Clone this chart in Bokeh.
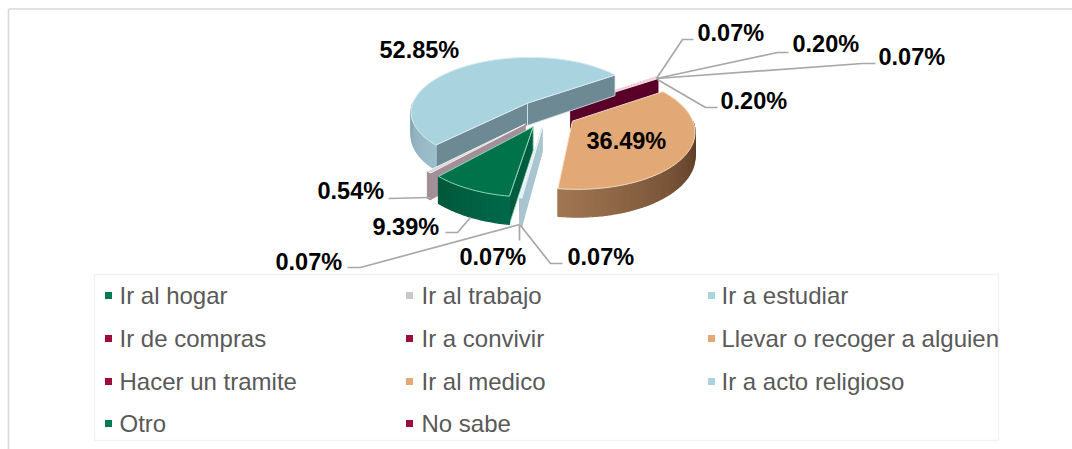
import math
from bokeh.plotting import figure
from bokeh.core.properties import value
from bokeh.embed import file_html
from bokeh.resources import INLINE

categories = ["Ir al hogar", "Ir al trabajo", "Ir a estudiar", "Ir de compras", "Ir a convivir",
              "Llevar o recoger a alguien", "Hacer un tramite", "Ir al medico", "Ir a acto religioso",
              "Otro", "No sabe"]
shares = [9.39, 0.54, 52.85, 0.07, 0.20, 0.07, 0.20, 36.49, 0.07, 0.07, 0.07]
legend_colors = ["#007a53", "#c8c8c8", "#a9d3df", "#9b0d3a", "#9b0d3a", "#e2a876", "#9b0d3a",
                 "#e2a876", "#a9d3df", "#007a53", "#9b0d3a"]

# Pie styling per series: top, top outline, radial wall, outer wall (two ends)
top_colors = ["#00734a", "#dcd6d8", "#a9d3df", "#e9b9cc", "#e9b9cc", "#e2a876", "#e9b9cc",
              "#e2a876", "#d8e8ee", "#d8e8ee", "#d8e8ee"]
edge_colors = ["#8fd6b8", "#f0eeee", "#dbeaef", "#f3dbe6", "#f3dbe6", "#f0d8c0", "#f3dbe6",
               "#f0dcc8", "#e8f3f6", "#e8f3f6", "#e8f3f6"]
wall_colors = ["#005c3e", "#a28f97", "#6c8994", "#7d6050", "#5a0028", "#7d6050", "#5a0028",
               "#7a5a40", "#a9c5cf", "#a9c5cf", "#a9c5cf"]
wall_a = ["#00684a", "#a28f97", "#9dbfcc", "#5a0028", "#5a0028", "#5a0028", "#5a0028",
          "#533420", "#a9c5cf", "#a9c5cf", "#a9c5cf"]
wall_b = ["#00593a", "#a28f97", "#86a7b3", "#5a0028", "#5a0028", "#5a0028", "#5a0028",
          "#a07652", "#a9c5cf", "#a9c5cf", "#a9c5cf"]
# Leader lines and label positions (layout, screen pixels)
label_pos = [(372, 226), (317, 190), (379, 49), (697, 32), (792, 43), (878, 56), (720, 100),
             (586, 140), (567, 256), (459, 256), (275, 261)]
leaders = [[(445, 232), (457, 232), (470, 217)],
           [(388, 198), (430, 197)],
           None,
           [(656, 78), (682, 39), (693, 39)],
           [(656, 78), (777, 52), (788, 52)],
           [(656, 78), (862, 63), (875, 63)],
           [(657, 79), (705, 107), (717, 107)],
           None,
           [(520, 225), (550, 263), (562, 263)],
           [(519, 225), (519, 240)],
           [(519, 224), (360, 267), (347, 267)]]

W, H = 1072, 449
CX, CY = 546, 113        # pie centre
R, TILT, PERSP = 118, 0.47, 0.15
EXPLODE, DEPTH = 30, 23
START = 188.5

p = figure(width=W, height=H, x_range=(0, W), y_range=(H, 0), output_backend="svg",
           toolbar_location=None, min_border=0, outline_line_color=None, background_fill_color="white")
p.xaxis.visible = False
p.yaxis.visible = False
p.grid.visible = False


def hex2rgb(c):
    return tuple(int(c[i:i + 2], 16) for i in (1, 3, 5))


def mix(a, b, f):
    ra, rb = hex2rgb(a), hex2rgb(b)
    return "#%02x%02x%02x" % tuple(round(x + (y - x) * f) for x, y in zip(ra, rb))


def proj(theta, r, bis, z=0.0):
    th, bi = math.radians(theta), math.radians(bis)
    X = math.sin(th) * r + math.sin(bi) * EXPLODE
    Y = math.cos(th) * r + math.cos(bi) * EXPLODE
    s = 1 / (1 + PERSP * Y / R)
    return CX + X * s, CY - Y * TILT * s + z * s


def arc(a0, a1):
    n = max(2, int(abs(a1 - a0) / 2) + 2)
    return [a0 + (a1 - a0) * i / (n - 1) for i in range(n)]


angles = []
t = START
total = sum(shares)
for v in shares:
    a0, a1 = t, t + v / total * 360
    off = 360 if a0 >= 360 else 0
    angles.append((a0 - off, a1 - off))
    t = a1

# back-to-front painting order
order = [3, 4, 5, 6, 2, 7, 10, 9, 8, 1, 0]


def patch(pts, fill, line=None, lw=1.0):
    p.patch([q[0] for q in pts], [q[1] for q in pts], fill_color=fill,
            line_color=line or fill, line_width=lw)


for i in order:
    a0, a1 = angles[i]
    bis = (a0 + a1) / 2
    # radial walls
    for a, visible in ((a0, math.sin(math.radians(a0)) < 0), (a1, math.sin(math.radians(a1)) > 0)):
        if visible:
            patch([proj(a, 0, bis), proj(a, R, bis), proj(a, R, bis, DEPTH), proj(a, 0, bis, DEPTH)],
                  wall_colors[i], edge_colors[i] if shares[i] > 1 else None, 0.8)
    # outer wall facing the viewer, in shaded segments
    lo, hi = max(a0, 90), min(a1, 270)
    if hi > lo:
        seq = arc(lo, hi)
        for j in range(len(seq) - 1):
            f = j / max(1, len(seq) - 2)
            col = mix(wall_a[i], wall_b[i], f)
            patch([proj(seq[j], R, bis), proj(seq[j + 1], R, bis),
                   proj(seq[j + 1], R, bis, DEPTH), proj(seq[j], R, bis, DEPTH)], col, col, 1.3)
    # top face
    pts = [proj(a0, 0, bis)] + [proj(a, R, bis) for a in arc(a0, a1)]
    patch(pts, top_colors[i], edge_colors[i], 1.0)

# chart frame
p.line([8, W], [8.5, 8.5], line_color="#d9d9d9", line_width=1.6)
p.line([8, 8], [8.5, H], line_color="#d9d9d9", line_width=1.6)

# leaders
for pts in leaders:
    if pts:
        p.line([q[0] for q in pts], [q[1] for q in pts], line_color="#a8a8a8", line_width=1.7)

# data labels
p.text(x=[q[0] for q in label_pos], y=[q[1] for q in label_pos],
       text=[f"{v:.2f}%" for v in shares], text_font=value("Liberation Sans"),
       text_font_style="bold", text_font_size="23.5px", text_color="#000000",
       text_align="left", text_baseline="middle")

# legend
LEG_X = [108, 409, 711]
LEG_TX = [119, 421, 721]
LEG_Y = [295, 338, 381, 423]
p.quad(left=[94], right=[998], top=[274], bottom=[440], fill_color="white", line_color="#f2f2f2",
       line_width=1.5)
lx, tx, ly = [], [], []
for k in range(len(categories)):
    lx.append(LEG_X[k % 3])
    tx.append(LEG_TX[k % 3])
    ly.append(LEG_Y[k // 3])
p.scatter(x=lx, y=ly, marker="square", size=7, fill_color=legend_colors, line_color=None)
p.text(x=tx, y=ly, text=categories, text_font=value("Liberation Sans"),
       text_font_size="24px", text_color="#595959", text_align="left", text_baseline="middle")

open("out.html", "w").write(file_html(p, INLINE))
